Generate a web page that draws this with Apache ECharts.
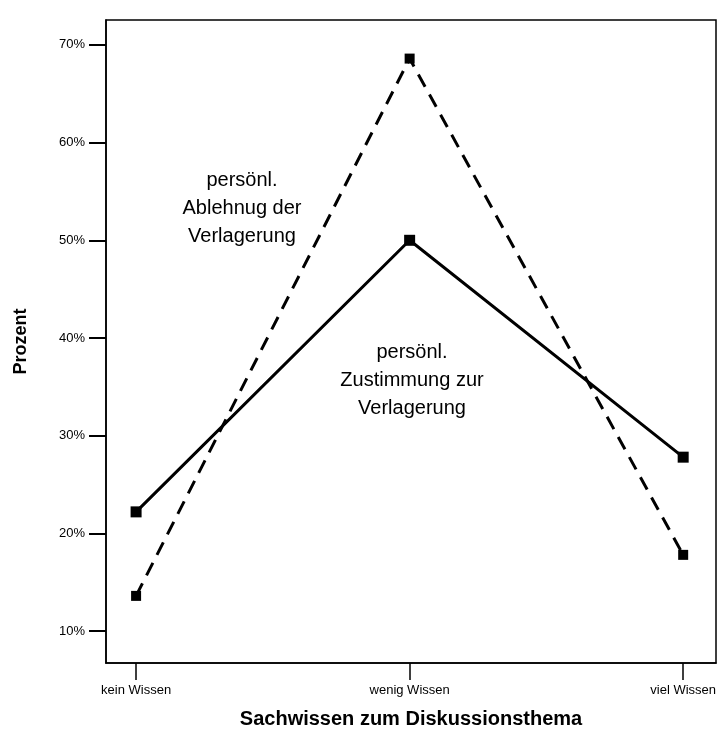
<!DOCTYPE html>
<html>
<head>
<meta charset="utf-8">
<script src="https://cdn.jsdelivr.net/npm/echarts@6/dist/echarts.min.js"></script>
<style>
html,body{margin:0;padding:0;background:#fff;}
#chart{width:728px;height:740px;}
</style>
</head>
<body>
<div id="chart"></div>
<script>
const categories = ['kein Wissen', 'wenig Wissen', 'viel Wissen'];
const zustimmung = [22.2, 50.0, 27.8];
const ablehnung = [13.6, 68.6, 17.8];
const yTicks = [10, 20, 30, 40, 50, 60, 70];
const xTicks = [0, 1, 2];

const FONT = '"Liberation Sans", Arial, sans-serif';
const chart = echarts.init(document.getElementById('chart'), null, {renderer: 'canvas'});

function toPairs(arr){ return arr.map((v,i)=>[i, v]); }

chart.setOption({
  animation: false,
  backgroundColor: '#fff',
  grid: {left: 106, right: 12, top: 20, bottom: 77, show: true, borderColor: '#000', borderWidth: 1.5, backgroundColor: 'transparent'},
  xAxis: {
    type: 'value', min: -0.11, max: 2.12,
    name: 'Sachwissen zum Diskussionsthema',
    nameLocation: 'middle', nameGap: 46,
    nameTextStyle: {fontFamily: FONT, fontSize: 20, fontWeight: 'bold', color: '#000'},
    axisLine: {show: true, onZero: false, lineStyle: {color: '#000', width: 1.5}},
    axisTick: {show: true, customValues: xTicks, length: 17, lineStyle: {color: '#000', width: 1.5}},
    axisLabel: {show: true, customValues: xTicks, formatter: v => categories[Math.round(v)] || '', fontFamily: FONT, fontSize: 13, color: '#000', margin: 21},
    splitLine: {show: false}
  },
  yAxis: {
    type: 'value', min: 6.73, max: 72.55,
    name: 'Prozent', nameLocation: 'middle', nameGap: 76, nameRotate: 90,
    nameTextStyle: {fontFamily: FONT, fontSize: 18, fontWeight: 'bold', color: '#000'},
    axisLine: {show: true, onZero: false, lineStyle: {color: '#000', width: 1.5}},
    axisTick: {show: true, customValues: yTicks, length: 17, lineStyle: {color: '#000', width: 2}},
    axisLabel: {show: true, customValues: yTicks, formatter: v => v + '%', fontFamily: FONT, fontSize: 13, color: '#000', margin: 21},
    splitLine: {show: false}
  },
  series: [
    {
      name: 'persönl. Zustimmung zur Verlagerung',
      type: 'line', data: toPairs(zustimmung),
      symbol: 'rect', symbolSize: 11,
      itemStyle: {color: '#000'},
      lineStyle: {color: '#000', width: 3, type: 'solid'}
    },
    {
      name: 'persönl. Ablehnug der Verlagerung',
      type: 'line', data: toPairs(ablehnung),
      symbol: 'rect', symbolSize: 10,
      itemStyle: {color: '#000'},
      lineStyle: {color: '#000', width: 3, type: [14, 9]}
    }
  ],
  graphic: [
    {type: 'text', x: 242, y: 166, style: {text: 'persönl.\nAblehnug der\nVerlagerung', align: 'center', verticalAlign: 'top', fontFamily: FONT, fontSize: 20, lineHeight: 28, fill: '#000'}},
    {type: 'text', x: 412, y: 338, style: {text: 'persönl.\nZustimmung zur\nVerlagerung', align: 'center', verticalAlign: 'top', fontFamily: FONT, fontSize: 20, lineHeight: 28, fill: '#000'}}
  ]
});
</script>
</body>
</html>
